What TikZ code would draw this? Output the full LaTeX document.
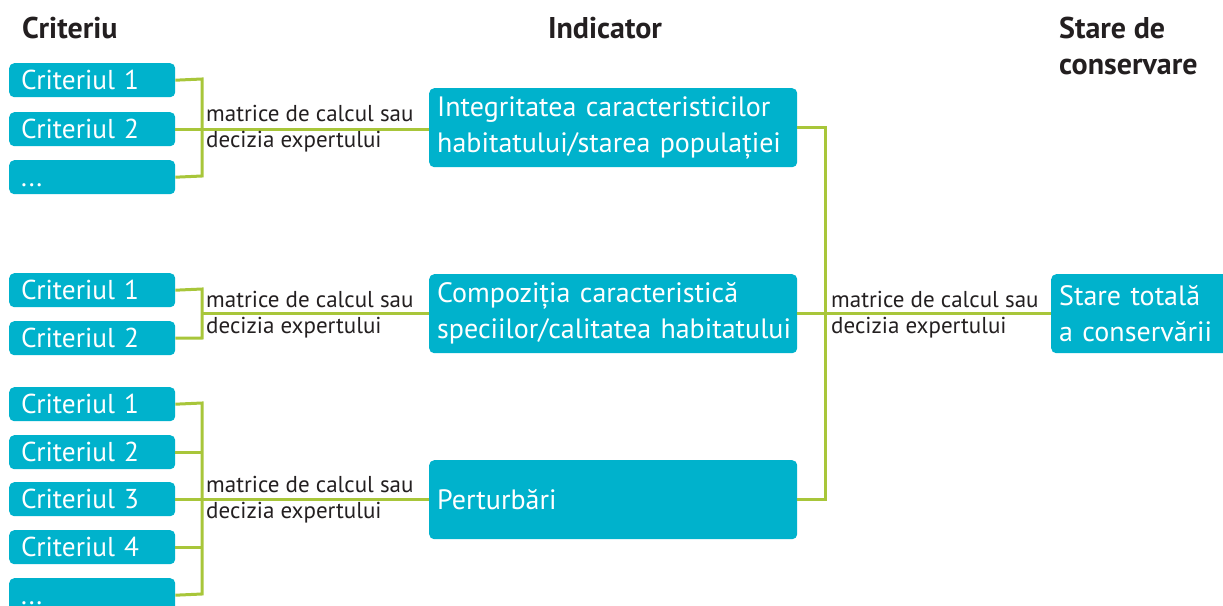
\documentclass[tikz,border=0pt]{standalone}
\usepackage{fontspec}
\setmainfont{PT Sans}
\definecolor{boxc}{RGB}{0,178,204}
\definecolor{linec}{RGB}{168,198,58}
\definecolor{txtc}{RGB}{35,31,32}
\begin{document}
\begin{tikzpicture}[x=1pt,y=-1pt,
  cbox/.style={rectangle,rounded corners=5pt,fill=boxc,text=white,anchor=north west,
    minimum width=166pt,minimum height=34pt,inner xsep=12pt,inner ysep=4pt,
    text height=22pt,text depth=4pt,
    text width=142pt,align=left,font=\fontsize{27.3}{30}\selectfont},
  ibox/.style={rectangle,rounded corners=5pt,fill=boxc,text=white,anchor=north west,
    minimum width=368pt,minimum height=79pt,inner xsep=8pt,inner ysep=0pt,
    text width=352pt,align=left,font=\fontsize{28}{36}\selectfont},
  sbox/.style={rectangle,rounded corners=5pt,fill=boxc,text=white,anchor=north west,
    minimum width=180pt,minimum height=79pt,inner xsep=8pt,inner ysep=0pt,
    text width=164pt,align=left,font=\fontsize{28}{36}\selectfont},
  conn/.style={draw=linec,line width=3pt},
  lbl/.style={anchor=west,text=txtc,font=\fontsize{23}{24}\selectfont,inner sep=0pt},
  head/.style={text=txtc,font=\fontsize{30}{36}\bfseries\selectfont,inner sep=0pt}]
\useasboundingbox (0,0) rectangle (1223,605);
% headers
\node[head,anchor=west] (h1) at (22,28) {Criteriu};
\node[head] (h2) at (605,28) {Indicator};
\node[head,anchor=north west,align=left] (h3) at (1059,17) {Stare de\\conservare};
% group 1
\node[cbox] (a1) at (9,63) {Criteriul 1};
\node[cbox] (a2) at (9,112) {Criteriul 2};
\node[cbox] (a3) at (9,160) {...};
\node[ibox] (i1) at (429,88) {\mbox{Integritatea caracteristicilor}\\\mbox{habitatului/starea populației}};
\coordinate (j1t) at (202,79);
\coordinate (j1b) at (202,176);
\draw[conn] (a1.east) -- (j1t) -- (j1b) -- (a3.east);
\draw[conn] (a2.east) -- (a2.east -| i1.west);
\node[lbl] (l1a) at (206,113) {matrice de calcul sau};
\node[lbl] (l1b) at (206,142) {decizia expertului};
% group 2
\node[cbox] (b1) at (9,273) {Criteriul 1};
\node[cbox] (b2) at (9,321) {Criteriul 2};
\node[ibox] (i2) at (429,274) {\mbox{Compoziția caracteristică}\\\mbox{speciilor/calitatea habitatului}};
\coordinate (j2t) at (202,289);
\coordinate (j2b) at (202,338);
\draw[conn] (b1.east) -- (j2t) -- (j2b) -- (b2.east);
\draw[conn] (j2t |- i2.west) -- (i2.west);
\node[lbl] (l2a) at (206,299) {matrice de calcul sau};
\node[lbl] (l2b) at (206,328) {decizia expertului};
% group 3
\node[cbox] (c1) at (9,387) {Criteriul 1};
\node[cbox] (c2) at (9,435) {Criteriul 2};
\node[cbox] (c3) at (9,482) {Criteriul 3};
\node[cbox] (c4) at (9,530) {Criteriul 4};
\node[cbox] (c5) at (9,578) {...};
\node[ibox] (i3) at (429,460) {Perturbări};
\coordinate (j3t) at (202,403);
\coordinate (j3b) at (202,594);
\draw[conn] (c1.east) -- (j3t) -- (j3b) -- (c5.east);
\draw[conn] (c2.east) -- (c2.east -| j3t);
\draw[conn] (c4.east) -- (c4.east -| j3t);
\draw[conn] (c3.east) -- (c3.east -| i3.west);
\node[lbl] (l3a) at (206,484) {matrice de calcul sau};
\node[lbl] (l3b) at (206,513) {decizia expertului};
% right side
\node[sbox] (s) at (1051,274) {Stare totală\\a conservării};
\coordinate (kt) at (825,127);
\coordinate (kb) at (825,499);
\draw[conn] (i1.east |- kt) -- (kt) -- (kb) -- (i3.east |- kb);
\draw[conn] (i2.east) -- (s.west);
\node[lbl] (l4a) at (831,299) {matrice de calcul sau};
\node[lbl] (l4b) at (831,328) {decizia expertului};
\end{tikzpicture}
\end{document}
